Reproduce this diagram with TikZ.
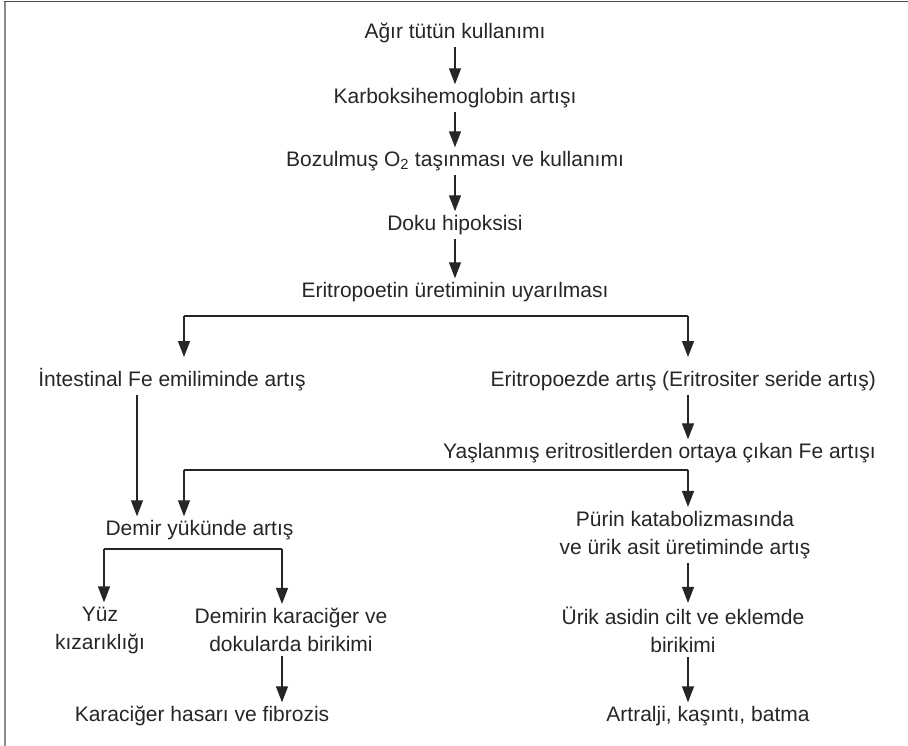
\documentclass[tikz,border=0pt]{standalone}
\usepackage{fontspec}
\setmainfont{Liberation Sans}
\usetikzlibrary{arrows.meta}
\begin{document}
\begin{tikzpicture}[x=1pt,y=-1pt,
  lbl/.style={font=\fontsize{21}{28}\selectfont, inner xsep=0pt, inner ysep=4pt, align=center, text=black!85},
  one/.style={text height=15pt, text depth=4pt},
  conn/.style={line width=1.3pt, draw=black!85},
  arr/.style={conn, -{Triangle[length=16pt,width=12pt]}}]
\useasboundingbox (0,0) rectangle (908,746);
\draw[black!45, line width=2pt] (4.5,746) -- (4.5,2);
\draw[black!70, line width=1.6pt] (3.5,1.5) -- (908,1.5);

% main chain
\node[lbl,one] (n1) at (455,33) {Ağır tütün kullanımı};
\node[lbl,one] (n2) at (455,98) {Karboksihemoglobin artışı};
\node[lbl,one] (n3) at (455,161) {Bozulmuş O\textsubscript{2} taşınması ve kullanımı};
\node[lbl,one] (n4) at (455,225) {Doku hipoksisi};
\node[lbl,one] (n5) at (455,292) {Eritropoetin üretiminin uyarılması};
\draw[arr] (n1) -- (n2);
\draw[arr] (n2) -- (n3);
\draw[arr] (n3) -- (n4);
\draw[arr] (n4) -- (n5);

% first split
\node[lbl,one] (n6) at (172,381) {İntestinal Fe emiliminde artış};
\node[lbl,one,anchor=east] (n7) at (876,381) {Eritropoezde artış (Eritrositer seride artış)};
\coordinate (s1) at (184,316);
\coordinate (s2) at (688,316);
\draw[conn] (s1) -- (s2);
\draw[arr] (s1) -- (s1 |- 0,357);
\draw[arr] (s2) -- (s2 |- 0,357);

\node[lbl,one,anchor=east] (n8) at (876,453) {Yaşlanmış eritrositlerden ortaya çıkan Fe artışı};
\draw[arr] (n7.south -| s2) -- (n8.north -| s2);

% second split
\coordinate (t1) at (184,470);
\coordinate (t2) at (688,470);
\node[lbl,one] (n9) at (199.5,530) {Demir yükünde artış};
\node[lbl] (n13) at (685,535) {Pürin katabolizmasında\\ve ürik asit üretiminde artış};
\draw[conn] (t1) -- (t2);
\draw[arr] (t1) -- (t1 |- n9.north);
\draw[arr] (t2) -- (t2 |- n13.north);
\draw[arr] ([xshift=-35pt]n6.south) -- ([xshift=-35pt]n6.south |- n9.north);

% iron branch
\coordinate (u1) at (104,549);
\coordinate (u2) at (282,549);
\node[lbl] (n10) at (100,630) {Yüz\\kızarıklığı};
\node[lbl] (n11) at (291,630) {Demirin karaciğer ve\\dokularda birikimi};
\draw[conn] (u1) -- (u2);
\draw[arr] (u1) -- (u1 |- n10.north);
\draw[arr] (u2) -- (u2 |- n11.north);
\node[lbl,one] (n12) at (202,716) {Karaciğer hasarı ve fibrozis};
\draw[arr] (n11.south -| u2) -- (n12.north -| u2);

% uric acid branch
\node[lbl] (n14) at (683,630) {Ürik asidin cilt ve eklemde\\birikimi};
\node[lbl,one] (n15) at (708,716) {Artralji, kaşıntı, batma};
\draw[arr] (n13.south -| t2) -- (n14.north -| t2);
\draw[arr] (n14.south -| t2) -- (n15.north -| t2);
\end{tikzpicture}
\end{document}
